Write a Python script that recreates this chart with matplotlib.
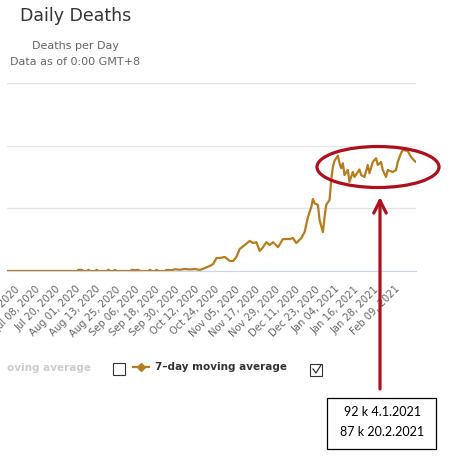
import matplotlib
matplotlib.use("Agg")
import matplotlib.pyplot as plt
import pandas as pd
from matplotlib.patches import Ellipse, Rectangle, FancyArrowPatch
from matplotlib.lines import Line2D

# 7-day moving average of daily deaths
dates = ["2020-06-19", "2020-07-31", "2020-08-01", "2020-08-03", "2020-08-04",
         "2020-08-06", "2020-08-07", "2020-08-08", "2020-08-11", "2020-08-12",
         "2020-08-13", "2020-08-18", "2020-08-19", "2020-08-20", "2020-08-22",
         "2020-08-23", "2020-08-24", "2020-09-01", "2020-09-02", "2020-09-04",
         "2020-09-06", "2020-09-07", "2020-09-12", "2020-09-13", "2020-09-14",
         "2020-09-16", "2020-09-17", "2020-09-18", "2020-09-22", "2020-09-23",
         "2020-09-26", "2020-09-28", "2020-10-01", "2020-10-04", "2020-10-07",
         "2020-10-10", "2020-10-13", "2020-10-16", "2020-10-19", "2020-10-21",
         "2020-10-23", "2020-10-25", "2020-10-28", "2020-10-31", "2020-11-02",
         "2020-11-04", "2020-11-06", "2020-11-09", "2020-11-12", "2020-11-14",
         "2020-11-16", "2020-11-18", "2020-11-20", "2020-11-22", "2020-11-24",
         "2020-11-26", "2020-11-29", "2020-12-02", "2020-12-06", "2020-12-08",
         "2020-12-10", "2020-12-13", "2020-12-15", "2020-12-17", "2020-12-19",
         "2020-12-20", "2020-12-21", "2020-12-23", "2020-12-24", "2020-12-26",
         "2020-12-27", "2020-12-28", "2020-12-30", "2020-12-31", "2021-01-01",
         "2021-01-02", "2021-01-03", "2021-01-04", "2021-01-05", "2021-01-06",
         "2021-01-07", "2021-01-08", "2021-01-10", "2021-01-11", "2021-01-13",
         "2021-01-14", "2021-01-17", "2021-01-18", "2021-01-20", "2021-01-22",
         "2021-01-23", "2021-01-25", "2021-01-27", "2021-01-28", "2021-01-30",
         "2021-01-31", "2021-02-02", "2021-02-03", "2021-02-06", "2021-02-08",
         "2021-02-09", "2021-02-11", "2021-02-12", "2021-02-15", "2021-02-17",
         "2021-02-19", "2021-02-20"]
avg7 = [0, 0, 0.9, 0.9, 0,
        0, 0.9, 0, 0, 0.9,
        0, 0, 0.9, 0, 0,
        0.9, 0, 0, 0.9, 0.6,
        0.9, 0, 0, 0.9, 0,
        0, 0.9, 0, 0, 0.9,
        0.6, 1.4, 1.0, 1.6, 1.2,
        1.6, 0.8, 2.4, 4.0, 5.6,
        10.4, 10.4, 11.2, 8.0, 8.0,
        11.2, 17.6, 20.7, 24.0, 22.3,
        23.0, 16.0, 19.0, 23.0, 20.7,
        23.0, 19.0, 25.5, 25.5, 26.3,
        22.3, 26.3, 31.0, 43.0, 51.0,
        57.5, 54.0, 52.7, 40.7, 31.0,
        43.0, 52.7, 56.7, 72.6, 83.0,
        88.0, 90.0, 92.0, 86.0, 82.0,
        86.0, 76.6, 80.6, 71.0, 79.0,
        75.0, 81.0, 76.6, 75.0, 84.6,
        78.0, 87.0, 90.0, 84.6, 87.0,
        80.6, 75.0, 80.6, 79.0, 80.6,
        87.0, 94.0, 96.5, 95.8, 91.0,
        88.0, 87.0]

tick_dates = pd.date_range("2020-06-26", "2021-02-09", freq="12D")
tick_labels = [d.strftime("%b %d, %Y") for d in tick_dates]
y_ticks = [0, 50, 100, 150]

W, H = 449, 461
def px(x, y):
    return (x / W, 1 - y / H)

fig = plt.figure(figsize=(W / 100, H / 100), dpi=100)
fig.patch.set_facecolor("white")

ax = fig.add_axes([7 / W, 1 - 271 / H, (416 - 7) / W, (271 - 83) / H])
x = pd.to_datetime(dates)
ax.plot(x, avg7, color="#b47d20", lw=1.6, solid_joinstyle="round")
ax.set_xlim(pd.Timestamp("2020-06-19"), pd.Timestamp("2021-02-20"))
ax.set_ylim(0, 150)
ax.set_yticks(y_ticks)
ax.yaxis.grid(True, color="#e6e6e6", lw=1)
ax.set_axisbelow(True)
ax.tick_params(axis="y", left=False, labelleft=False)
for s in ["top", "right", "left"]:
    ax.spines[s].set_visible(False)
ax.spines["bottom"].set_color("#ccd6eb")
ax.set_xticks(tick_dates)
ax.set_xticklabels(tick_labels, rotation=45, ha="right", va="center",
                   rotation_mode="anchor", fontsize=7.2, color="#666666")
ax.tick_params(axis="x", length=0, pad=12)

# titles
fig.text(*px(20, 16), "Daily Deaths", fontsize=12.5, color="#333333", va="center")
fig.text(*px(75, 46), "Deaths per Day", fontsize=8, color="#666666",
         ha="center", va="center")
fig.text(*px(75, 62), "Data as of 0:00 GMT+8", fontsize=8, color="#666666",
         ha="center", va="center")

# legend
fig.text(*px(7, 368), "oving average", fontsize=7.5, fontweight="bold",
         color="#cccccc", va="center")
fig.add_artist(Rectangle(px(113, 375), 12 / W, 12 / H, transform=fig.transFigure,
                         fill=False, edgecolor="#333333", lw=0.8))
fig.add_artist(Line2D([133 / W, 149 / W], [px(0, 367)[1]] * 2, transform=fig.transFigure,
                      color="#b47d20", lw=1.6))
fig.add_artist(Line2D([141 / W], [px(0, 367)[1]], transform=fig.transFigure,
                      marker="D", markersize=4, color="#b47d20"))
fig.text(*px(155, 367), "7\u2013day moving average", fontsize=7.5, fontweight="bold",
         color="#333333", va="center")
fig.add_artist(Rectangle(px(310, 376), 12 / W, 12 / H, transform=fig.transFigure,
                         fill=False, edgecolor="#333333", lw=0.8))
fig.add_artist(Line2D([313 / W, 316 / W, 321 / W], [px(0, 369)[1], px(0, 373)[1], px(0, 365)[1]],
                      transform=fig.transFigure, color="#333333", lw=0.9))

# red annotation
red = "#ad0f1c"
fig.add_artist(Ellipse(px(378, 167), 122 / W, 41 / H, transform=fig.transFigure,
                       fill=False, edgecolor=red, lw=2.3))
fig.add_artist(FancyArrowPatch(px(380, 389), px(380, 197), transform=fig.transFigure,
                               arrowstyle="->,head_length=9,head_width=4.5",
                               color=red, lw=2.3, mutation_scale=1,
                               shrinkA=0, shrinkB=0))
fig.add_artist(Rectangle(px(327, 449), 109 / W, 51 / H, transform=fig.transFigure,
                         fill=True, facecolor="white", edgecolor="black", lw=0.9))
fig.text(*px(382, 412), "92 k 4.1.2021", fontsize=9, family="Lato",
         ha="center", va="center", color="black")
fig.text(*px(382, 432), "87 k 20.2.2021", fontsize=9, family="Lato",
         ha="center", va="center", color="black")

fig.savefig("out.png", dpi=100, facecolor="white")
